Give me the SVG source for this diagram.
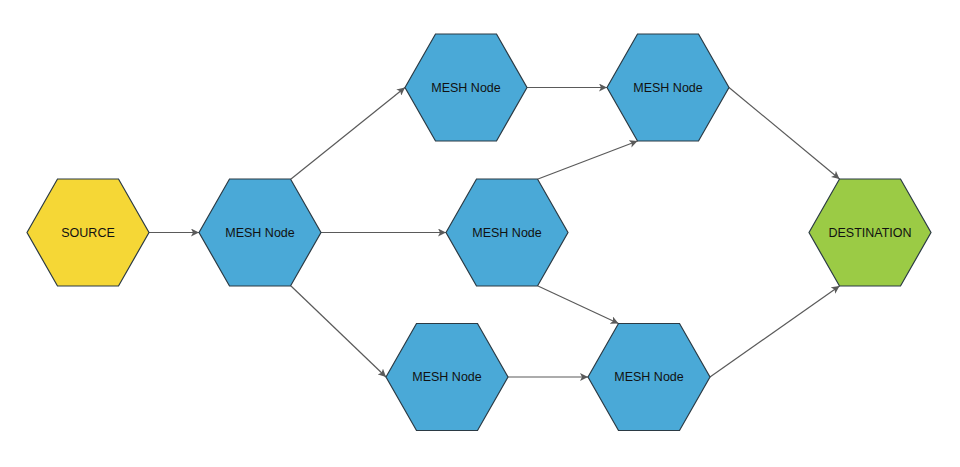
<svg xmlns="http://www.w3.org/2000/svg" width="960" height="467" viewBox="0 0 960 467">
<style>
.hex{stroke:#2b3a44;stroke-width:1.2}
.src{fill:#f5d736}
.mesh{fill:#4aa9d7}
.dst{fill:#9bcb45}
.lbl{font-family:"Liberation Sans",Arial,sans-serif;font-size:12.5px;fill:#111;text-anchor:middle;dominant-baseline:central}
.conn{stroke:#5a5a5a;stroke-width:1.2;fill:none;marker-end:url(#arr)}
</style>
<defs>
<polygon id="hx" points="-61,0 -30.5,-53.5 30.5,-53.5 61,0 30.5,53.5 -30.5,53.5"/>
<marker id="arr" viewBox="0 0 10 10" refX="10" refY="5" markerWidth="8" markerHeight="8" markerUnits="userSpaceOnUse" orient="auto">
<path d="M0,0 L10,5 L0,10 L2.5,5 Z" fill="#5a5a5a"/>
</marker>
</defs>
<rect width="960" height="467" fill="#fff"/>
<g id="connectors">
<line class="conn" x1="149" y1="232.5" x2="199" y2="232.5"/>
<line class="conn" x1="291" y1="179" x2="405" y2="87.5"/>
<line class="conn" x1="321" y1="232.5" x2="446" y2="232.5"/>
<line class="conn" x1="291" y1="286" x2="386" y2="377"/>
<line class="conn" x1="527" y1="87.5" x2="607" y2="87.5"/>
<line class="conn" x1="538" y1="179" x2="637.5" y2="141"/>
<line class="conn" x1="538" y1="286" x2="618.5" y2="323.5"/>
<line class="conn" x1="507" y1="377" x2="588" y2="377"/>
<line class="conn" x1="729" y1="87.5" x2="839.5" y2="179"/>
<line class="conn" x1="710" y1="377" x2="839.5" y2="286"/>
</g>
<g id="source" transform="translate(88,232.5)"><use href="#hx" class="hex src"/><text class="lbl">SOURCE</text></g>
<g id="mesh1" transform="translate(260,232.5)"><use href="#hx" class="hex mesh"/><text class="lbl">MESH Node</text></g>
<g id="mesh2" transform="translate(466,87.5)"><use href="#hx" class="hex mesh"/><text class="lbl">MESH Node</text></g>
<g id="mesh3" transform="translate(668,87.5)"><use href="#hx" class="hex mesh"/><text class="lbl">MESH Node</text></g>
<g id="mesh4" transform="translate(507,232.5)"><use href="#hx" class="hex mesh"/><text class="lbl">MESH Node</text></g>
<g id="mesh5" transform="translate(447,377)"><use href="#hx" class="hex mesh"/><text class="lbl">MESH Node</text></g>
<g id="mesh6" transform="translate(649,377)"><use href="#hx" class="hex mesh"/><text class="lbl">MESH Node</text></g>
<g id="destination" transform="translate(870,232.5)"><use href="#hx" class="hex dst"/><text class="lbl">DESTINATION</text></g>
</svg>
